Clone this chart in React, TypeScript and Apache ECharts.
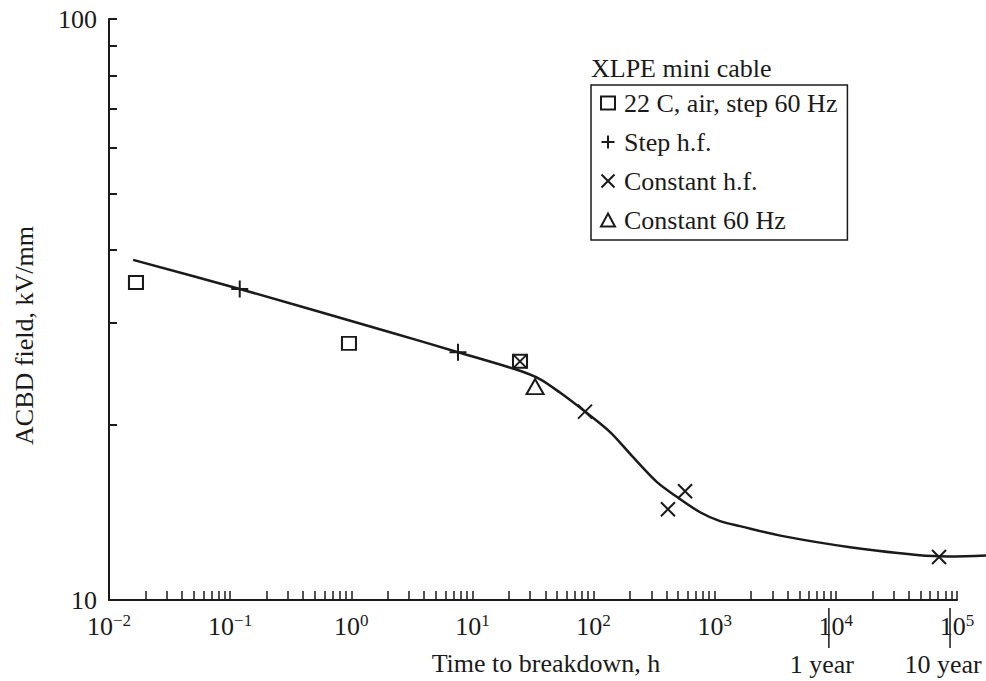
import React, { useEffect, useRef } from "react";
import * as echarts from "echarts";

const FONT = '"Liberation Serif", "Times New Roman", serif';
const INK = "#1a1a1a";

// Fitted life curve: time to breakdown (h) and ACBD field (kV/mm)
const curveHours = [0.0158, 0.12, 2.09, 7.6, 23.3, 36, 52.8, 85, 137, 212, 334, 489, 757, 1107, 1618, 3664, 13100, 63400, 174000];
const curveField = [38.5, 34.3, 28.9, 26.7, 24.9, 24.0, 22.75, 21.1, 19.45, 17.61, 15.95, 15.04, 14.16, 13.67, 13.4, 12.88, 12.33, 11.9, 11.93];

// Measured breakdowns, one pair of arrays per test condition
const stepAirHours = [0.0167, 0.957, 24.7];
const stepAirField = [35.2, 27.65, 25.75];
const stepHfHours = [0.12, 7.6];
const stepHfField = [34.3, 26.7];
const constHfHours = [24.7, 85, 411, 569, 71100];
const constHfField = [25.75, 21.1, 14.33, 15.39, 11.86];
const const60Hours = [32.9];
const const60Field = [23.3];

const seriesNames = ["22 C, air, step 60 Hz", "Step h.f.", "Constant h.f.", "Constant 60 Hz"];
const legendTitle = "XLPE mini cable";

// Axis ticks and labels
const xDecadeExponents = [-2, -1, 0, 1, 2, 3, 4, 5];
const xMinorMultipliers = [2, 3, 4, 5, 6, 7, 8, 9, 10];
const yLabelValues = [10, 100];
const yTickValues = [20, 30, 40, 50, 60, 70, 80, 90, 100];

// Reference durations marked under the time axis
const yearLabels = ["1 year", "10 year"];
const yearHours = [8760, 87600];

const lg = (v: number) => Math.log10(v);
const pairs = (xs: number[], ys: number[]) => xs.map((x, i) => [lg(x), lg(ys[i])]);

const PLUS = "path://M5,0L5,10M0,5L10,5";
const CROSS = "path://M0,0L10,10M10,0L0,10";

function supText(e: number) {
  const s = e < 0 ? "\u2212" + Math.abs(e) : String(e);
  return `{b|10}{s|${s}}`;
}

export default function App() {
  const ref = useRef<HTMLDivElement>(null);

  useEffect(() => {
    if (!ref.current) return;
    const chart = echarts.init(ref.current, undefined, { renderer: "svg" });

    const minorTicks: number[] = [];
    for (let i = 0; i < xDecadeExponents.length - 1; i++) {
      for (const m of xMinorMultipliers) minorTicks.push(lg(m * Math.pow(10, xDecadeExponents[i])));
    }

    const curvePoints = pairs(curveHours, curveField);
    const markerStyle = { color: "transparent", borderColor: INK, borderWidth: 2, opacity: 1 };

    chart.setOption({
      animation: false,
      backgroundColor: "#fff",
      textStyle: { fontFamily: FONT, color: INK },
      title: {
        text: legendTitle,
        left: 586,
        top: 50,
        textStyle: { fontFamily: FONT, fontSize: 26, fontWeight: "normal", color: INK },
      },
      legend: {
        data: seriesNames,
        orient: "vertical",
        left: 591,
        top: 85,
        padding: [5, 10, 7, 9],
        itemGap: 13,
        itemWidth: 14,
        itemHeight: 13,
        selectedMode: false,
        borderColor: INK,
        borderWidth: 1.5,
        itemStyle: { opacity: 1 },
        textStyle: { fontFamily: FONT, fontSize: 26, color: INK, lineHeight: 26, padding: [0, 0, 0, 4] },
      },
      grid: { left: 109, right: 29, top: 19, bottom: 80, containLabel: false },
      xAxis: {
        type: "value",
        min: -2,
        max: 5,
        name: "Time to breakdown, h",
        nameLocation: "middle",
        nameGap: 50,
        nameMoveOverlap: false,
        nameTextStyle: { fontFamily: FONT, fontSize: 26, color: INK, padding: [0, 0, 0, 26] },
        axisLine: { onZero: false, lineStyle: { color: INK, width: 2 } },
        axisTick: {
          customValues: minorTicks,
          inside: true,
          length: 9,
          lineStyle: { color: INK, width: 1.5 },
        },
        axisLabel: {
          customValues: xDecadeExponents,
          margin: 12,
          formatter: (v: number) => supText(Math.round(v)),
          rich: {
            b: { fontFamily: FONT, fontSize: 26, color: INK, lineHeight: 28 },
            s: { fontFamily: FONT, fontSize: 17, color: INK, lineHeight: 17, verticalAlign: "top" },
          },
        },
        splitLine: { show: false },
      },
      yAxis: {
        type: "value",
        min: 1,
        max: 2,
        name: "ACBD field, kV/mm",
        nameLocation: "middle",
        nameRotate: 90,
        nameGap: 72,
        nameMoveOverlap: false,
        nameTextStyle: { fontFamily: FONT, fontSize: 26, color: INK, padding: [0, 52, 0, 0] },
        axisLine: { onZero: false, lineStyle: { color: INK, width: 2 } },
        axisTick: {
          customValues: yTickValues.map(lg),
          inside: true,
          length: 8,
          lineStyle: { color: INK, width: 2 },
        },
        axisLabel: {
          customValues: yLabelValues.map(lg),
          margin: 12,
          fontFamily: FONT,
          fontSize: 26,
          color: INK,
          formatter: (v: number) => String(Math.round(Math.pow(10, v))),
        },
        splitLine: { show: false },
      },
      series: [
        {
          // life curve; it runs on past the end of the time axis
          type: "custom",
          name: "life curve",
          clip: false,
          silent: true,
          data: curvePoints,
          z: 2,
          renderItem: (params: any, api: any) => {
            if (params.dataIndex !== 0) return null;
            return {
              type: "polyline",
              shape: { points: curvePoints.map((p) => api.coord(p)), smooth: 0.3 },
              style: { stroke: INK, lineWidth: 2.5, fill: "none" },
            };
          },
        },
        {
          type: "scatter",
          name: seriesNames[0],
          data: pairs(stepAirHours, stepAirField),
          symbol: "rect",
          symbolSize: [14, 13],
          itemStyle: markerStyle,
          z: 3,
        },
        {
          type: "scatter",
          name: seriesNames[1],
          data: pairs(stepHfHours, stepHfField),
          symbol: PLUS,
          symbolSize: 17,
          itemStyle: markerStyle,
          z: 3,
        },
        {
          type: "scatter",
          name: seriesNames[2],
          data: pairs(constHfHours, constHfField),
          symbol: CROSS,
          symbolSize: 14,
          itemStyle: markerStyle,
          z: 3,
        },
        {
          type: "scatter",
          name: seriesNames[3],
          data: pairs(const60Hours, const60Field),
          symbol: "triangle",
          symbolSize: [17, 15],
          itemStyle: markerStyle,
          z: 3,
        },
        {
          type: "custom",
          name: "durations",
          clip: false,
          silent: true,
          data: yearHours.map((h, i) => [lg(h), i]),
          renderItem: (_params: any, api: any) => {
            const idx = api.value(1);
            const p = api.coord([api.value(0), 1]);
            return {
              type: "group",
              children: [
                {
                  type: "line",
                  shape: { x1: p[0], y1: p[1] + 8, x2: p[0], y2: p[1] + 48 },
                  style: { stroke: INK, lineWidth: 1.5 },
                },
                {
                  type: "text",
                  x: p[0] - 7,
                  y: p[1] + 64,
                  style: {
                    text: yearLabels[idx],
                    font: `26px ${FONT}`,
                    fill: INK,
                    align: "center",
                    verticalAlign: "middle",
                  },
                },
              ],
            };
          },
        },
      ],
    });

    return () => chart.dispose();
  }, []);

  return (
    <div
      ref={ref}
      style={{ position: "fixed", left: 0, top: 0, width: 986, height: 681 }}
    />
  );
}
